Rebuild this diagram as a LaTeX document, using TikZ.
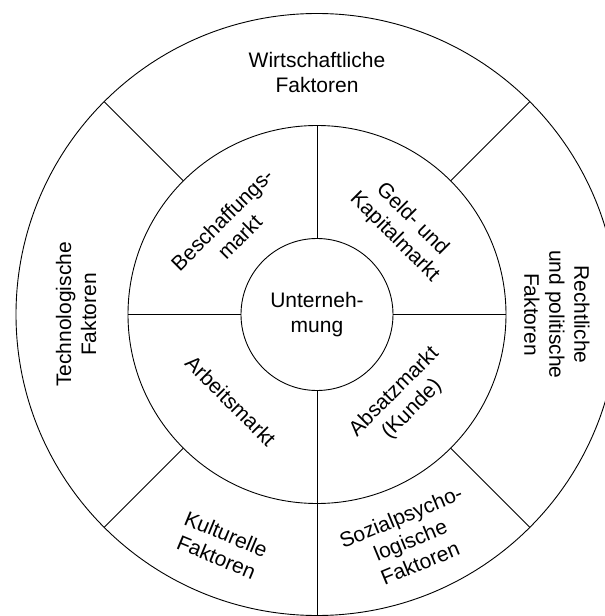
\documentclass[tikz,border=0pt]{standalone}
\usepackage{fontspec}
\setmainfont{Liberation Sans}
\begin{document}
\begin{tikzpicture}[x=1pt,y=1pt,
  ringline/.style={draw=black,line width=0.9pt},
  disc/.style={circle,ringline,inner sep=0pt,outer sep=0pt},
  label/.style={align=center,inner sep=0pt,font=\fontsize{21}{25}\selectfont},
]
\useasboundingbox (-317,-301.5) rectangle (288,314.5);
% three concentric circles
\node[disc,minimum size=602pt] (outer) at (0,0) {};
\node[disc,minimum size=378pt] (ring) at (0,0) {};
\node[disc,minimum size=152pt,label] (core) at (0,0) {Unterneh-\\mung};
% dividers of the market ring
\draw[ringline] (core.north) -- (ring.north);
\draw[ringline] (core.west) -- (ring.west);
\draw[ringline] (core.east) -- (ring.east);
\draw[ringline] (core.south) -- (outer.south);
% dividers of the outer ring
\foreach \a in {45,135,225,315}
  \draw[ringline] (ring.\a) -- (outer.\a);
% market ring labels
\node[label,rotate=45]  (besch) at (135:122) {Beschaffungs-\\markt};
\node[label,rotate=-45] (geld)  at (45:122)  {Geld- und\\Kapitalmarkt};
\node[label,rotate=-45] (arb)   at (225:122) {Arbeitsmarkt};
\node[label,rotate=45]  (abs)   at (315:122) {Absatzmarkt\\(Kunde)};
% outer ring labels
\node[label] (wirt) at (90:242) {Wirtschaftliche\\Faktoren};
\node[label,rotate=90] (tech) at (180:241) {Technologische\\Faktoren};
\node[label,rotate=-90] (recht) at (0:240) {Rechtliche\\und politische\\Faktoren};
\node[label,rotate=-22.5] (kult) at (247.5:250) {Kulturelle\\Faktoren};
\node[label,rotate=22.5] (sozi) at (292.5:244) {Sozialpsycho-\\logische\\Faktoren};
\end{tikzpicture}
\end{document}
